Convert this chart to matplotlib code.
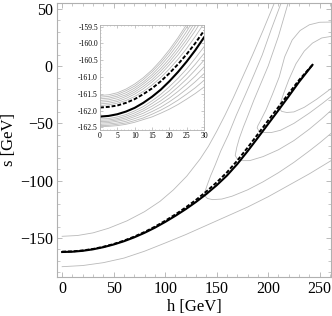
import matplotlib
matplotlib.use("Agg")
import matplotlib.pyplot as plt
from matplotlib.ticker import MultipleLocator, FormatStrFormatter

plt.rcParams['font.family'] = ['Liberation Serif', 'DejaVu Serif']
plt.rcParams['axes.unicode_minus'] = True

# ---------------- data ----------------
path_h = [0, 10, 20, 30, 40, 50, 60, 70, 80, 90, 100, 110, 120, 130, 140, 150, 160,
          170, 180, 190, 200, 210, 220, 230, 243]
path_s = [-162.2, -161.95, -161.15, -159.85, -158.0, -155.65, -152.8, -149.4, -145.45,
          -141.0, -136.0, -130.6, -124.8, -118.5, -111.6, -104.0, -95.5, -85.5, -74.3,
          -62.5, -50.5, -38.5, -26.3, -13.8, 1.0]
dash_s = [-161.92, -161.67, -160.85, -159.55, -157.65, -155.25, -152.3, -148.8, -144.75,
          -140.15, -135.0, -129.4, -123.3, -116.7, -109.4, -101.5, -92.7, -82.5, -71.2,
          -59.4, -47.5, -35.7, -23.9, -12.2, 1.0]

# gray contour lines of the main panel
c0u_h = [0, 15, 30, 45, 63, 80, 95, 108, 121, 134, 142, 150, 158, 166, 175, 185, 195, 206]
c0u_s = [-148.5, -147.8, -145.5, -141.5, -135, -127, -118, -108, -96, -81, -70, -57,
         -43, -28, -10, 10, 31, 55]
c0l_h = [0, 20, 40, 60, 80, 101, 120, 140, 160, 180, 200, 220, 240, 262]
c0l_s = [-175, -174, -171.5, -167.5, -161.5, -154, -147, -139, -131, -123, -114, -104,
         -94, -82]
c1_h = [212.6, 203, 194.2, 186, 177.7, 169, 161.2, 154, 148.5, 144, 140.8, 138.5, 138,
        141, 146, 155, 165, 180, 195, 210, 225, 240, 250, 262]
c1_s = [55, 32, 9.6, -8, -25.3, -43, -60.3, -74, -86.5, -96, -103.9, -110, -112.7,
        -115.5, -116.5, -116, -113.5, -108, -101, -93, -84, -74, -67, -58]
c2_h = [219.4, 210, 200, 193, 186, 180, 176, 172, 169.5, 168, 170, 174, 182, 195, 210,
        225, 240, 252, 262]
c2_s = [55, 26, 0, -15, -30, -44, -53, -63, -71, -78, -81, -82.5, -82.5, -79, -73,
        -65, -55, -46, -38]
c3_h = [262, 250, 240, 231, 223.3, 216, 210.7, 204, 198, 193, 190, 189.3, 191, 196,
        203, 212, 225, 240, 252, 262]
c3_s = [38.4, 38.2, 36, 31, 22.7, 8, -9.6, -25, -38, -47, -52, -54, -56.5, -58, -58,
        -56, -50, -41, -33, -26]
c4_h = [262, 252, 243, 235, 227, 220, 215, 212, 210.7, 213, 218, 225, 235, 247, 262]
c4_s = [26, 24.5, 20, 13, 2, -12, -24, -32, -36.7, -39.5, -40.5, -40, -36, -29, -19]
contours = [(c0u_h, c0u_s), (c0l_h, c0l_s), (c1_h, c1_s), (c2_h, c2_s),
            (c3_h, c3_s), (c4_h, c4_s)]

# inset: close-up near h = 0
ins_h = [0, 2.5, 5, 7.5, 10, 12.5, 15, 17.5, 20, 22.5, 25, 27.5, 30]
ins_path_s = [-162.18, -162.16, -162.11, -162.03, -161.92, -161.77, -161.59, -161.38,
              -161.13, -160.85, -160.54, -160.20, -159.82]
ins_dash_s = [-161.91, -161.89, -161.85, -161.77, -161.66, -161.51, -161.34, -161.13,
              -160.89, -160.62, -160.32, -159.99, -159.62]
ins_gray = [
    [-161.55, -161.53, -161.47, -161.36, -161.21, -161.02, -160.79, -160.51, -160.19, -159.83, -159.43, -158.98, -158.49],
    [-161.60, -161.58, -161.52, -161.41, -161.27, -161.08, -160.85, -160.58, -160.27, -159.91, -159.52, -159.08, -158.60],
    [-161.65, -161.63, -161.57, -161.47, -161.33, -161.15, -160.93, -160.66, -160.36, -160.02, -159.64, -159.21, -158.75],
    [-161.70, -161.68, -161.62, -161.53, -161.39, -161.21, -161.00, -160.75, -160.46, -160.13, -159.76, -159.35, -158.90],
    [-161.75, -161.73, -161.68, -161.58, -161.45, -161.28, -161.08, -160.83, -160.55, -160.23, -159.88, -159.48, -159.05],
    [-161.80, -161.78, -161.73, -161.64, -161.51, -161.35, -161.15, -160.92, -160.64, -160.34, -159.99, -159.62, -159.20],
    [-161.85, -161.83, -161.78, -161.70, -161.58, -161.43, -161.24, -161.02, -160.76, -160.47, -160.15, -159.79, -159.40],
    [-162.25, -162.24, -162.19, -162.12, -162.01, -161.88, -161.71, -161.52, -161.29, -161.04, -160.76, -160.44, -160.10],
    [-162.29, -162.28, -162.24, -162.17, -162.07, -161.95, -161.79, -161.61, -161.41, -161.17, -160.91, -160.62, -160.30],
    [-162.33, -162.32, -162.28, -162.22, -162.13, -162.01, -161.87, -161.71, -161.52, -161.30, -161.06, -160.79, -160.50],
    [-162.37, -162.36, -162.32, -162.27, -162.18, -162.08, -161.95, -161.80, -161.63, -161.43, -161.21, -160.97, -160.70],
    [-162.41, -162.40, -162.37, -162.32, -162.24, -162.15, -162.03, -161.90, -161.74, -161.56, -161.36, -161.14, -160.90],
    [-162.45, -162.44, -162.41, -162.37, -162.30, -162.22, -162.11, -161.99, -161.85, -161.69, -161.51, -161.32, -161.10],
    [-162.48, -162.47, -162.45, -162.41, -162.35, -162.27, -162.19, -162.08, -161.96, -161.82, -161.66, -161.49, -161.30],
]

x_ticks = [0, 50, 100, 150, 200, 250]
y_ticks = [-150, -100, -50, 0, 50]
ins_x_ticks = [0, 5, 10, 15, 20, 25, 30]
ins_y_ticks = [-162.5, -162.0, -161.5, -161.0, -160.5, -160.0, -159.5]

# ---------------- styling ----------------
GRAY = '#b9b9b9'
FRAME = '#b0b0b0'

fig = plt.figure(figsize=(3.32, 3.16), dpi=100)
ax = fig.add_axes([57/332, 39/316, 274/332, 274/316])

for hh, ss in contours:
    ax.plot(hh, ss, color=GRAY, lw=0.6, solid_joinstyle='round')
ax.plot(path_h, path_s, color='black', lw=1.5, solid_joinstyle='round')
ax.plot(path_h, dash_s, color='black', lw=1.4, dashes=(2.0, 1.0))

ax.set_xlim(-5, 261)
ax.set_ylim(-184, 55)
ax.set_xticks(x_ticks)
ax.set_yticks(y_ticks)
ax.xaxis.set_minor_locator(MultipleLocator(10))
ax.yaxis.set_minor_locator(MultipleLocator(10))
ax.tick_params(which='both', direction='in', top=True, right=True,
               color=FRAME, labelsize=11.5, pad=3)
ax.tick_params(which='major', length=3.5, width=0.6)
ax.tick_params(which='minor', length=2, width=0.5)
for sp in ax.spines.values():
    sp.set_color(FRAME)
    sp.set_linewidth(0.8)
ax.set_xlabel('h [GeV]', fontsize=12, labelpad=1)
ax.set_ylabel('s [GeV]', fontsize=12, labelpad=2)

# ---------------- inset ----------------
ia = fig.add_axes([100/332, (316-130)/316, 104/332, 105/316])
ia.set_facecolor('white')
for row in ins_gray:
    ia.plot(ins_h, row, color=GRAY, lw=0.6)
ia.plot(ins_h, ins_path_s, color='black', lw=1.5)
ia.plot(ins_h, ins_dash_s, color='black', lw=1.4, dashes=(2.0, 1.0))
ia.set_xlim(0, 30)
ia.set_ylim(-162.58, -159.45)
ia.set_xticks(ins_x_ticks)
ia.set_yticks(ins_y_ticks)
ia.yaxis.set_major_formatter(FormatStrFormatter('%.1f'))
ia.xaxis.set_minor_locator(MultipleLocator(1))
ia.yaxis.set_minor_locator(MultipleLocator(0.1))
ia.tick_params(which='both', direction='in', top=True, right=True,
               color=FRAME, labelsize=5.5, pad=1.5)
ia.tick_params(which='major', length=2, width=0.5)
ia.tick_params(which='minor', length=1, width=0.4)
for sp in ia.spines.values():
    sp.set_color(FRAME)
    sp.set_linewidth(0.6)

fig.savefig('out.png', dpi=100)
